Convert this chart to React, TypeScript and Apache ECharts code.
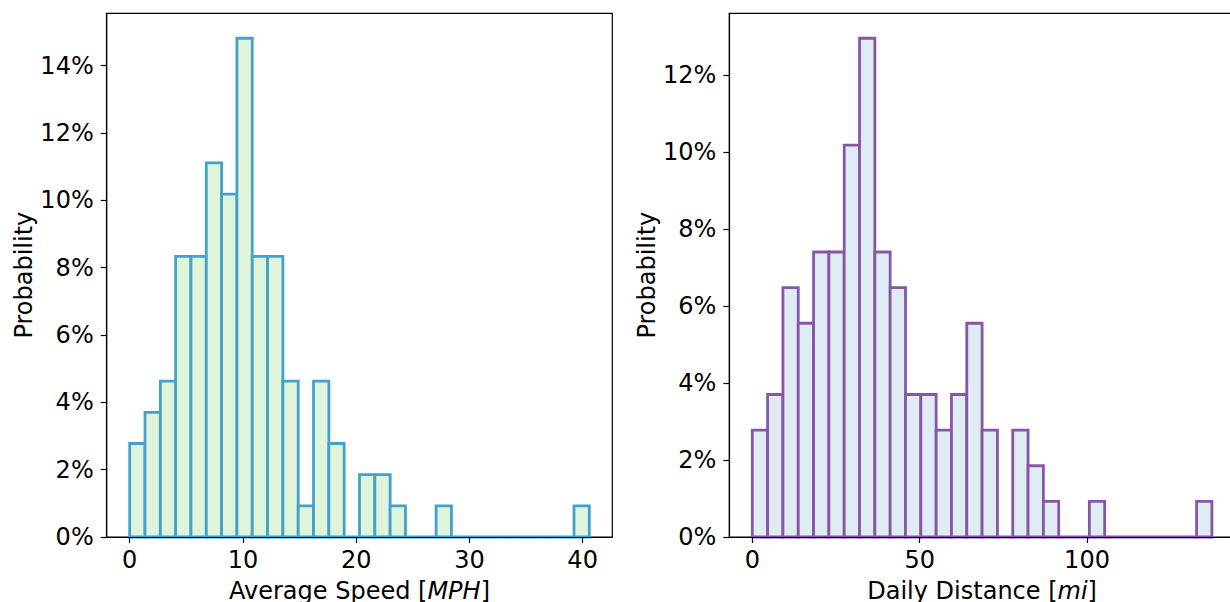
import React, { useEffect, useRef } from 'react';
import * as echarts from 'echarts';

// Histogram counts (30 bins each), sample size 108
const speedCounts = [3, 4, 5, 9, 9, 12, 11, 16, 9, 9, 5, 1, 5, 3, 0, 2, 2, 1, 0, 0, 1, 0, 0, 0, 0, 0, 0, 0, 0, 1];
const distanceCounts = [3, 4, 7, 6, 8, 8, 11, 14, 8, 7, 4, 4, 3, 4, 6, 3, 0, 3, 2, 1, 0, 0, 1, 0, 0, 0, 0, 0, 0, 1];
const sampleSize = 108;

const speedBinStart = 0;
const speedBinWidth = 1.353;
const distanceBinStart = 0;
const distanceBinWidth = 4.577;

const speedTicks = [0, 10, 20, 30, 40];
const distanceTicks = [0, 50, 100];
const speedPctTicks = [0, 2, 4, 6, 8, 10, 12, 14];
const distancePctTicks = [0, 2, 4, 6, 8, 10, 12];

const FONT = 'DejaVu Sans';

function toBins(counts: number[], start: number, width: number) {
  return counts.map((c, i) => [start + i * width, start + (i + 1) * width, (c / sampleSize) * 100]);
}

function histSeries(idx: number, data: number[][], fill: string, stroke: string) {
  return {
    type: 'custom',
    xAxisIndex: idx,
    yAxisIndex: idx,
    dimensions: ['x0', 'x1', 'p'],
    encode: { x: [0, 1], y: 2 },
    data,
    renderItem: (params: any, api: any) => {
      const x0 = api.value(0);
      const x1 = api.value(1);
      const y = api.value(2);
      const p0 = api.coord([x0, 0]);
      const p1 = api.coord([x1, y]);
      return {
        type: 'rect',
        shape: { x: p0[0], y: p1[1], width: p1[0] - p0[0], height: p0[1] - p1[1] },
        style: { fill, stroke, lineWidth: 2.8 },
      };
    },
  };
}

function xAxisCfg(idx: number, min: number, max: number, ticks: number[], name: string) {
  return {
    type: 'value',
    gridIndex: idx,
    min,
    max,
    z: 10,
    splitLine: { show: false },
    axisLine: { onZero: false, lineStyle: { color: '#000', width: 1.2 } },
    axisTick: { customValues: ticks, length: 6, lineStyle: { color: '#000', width: 1.2 } },
    axisLabel: { customValues: ticks, margin: 11, fontSize: 24, color: '#000', fontFamily: FONT },
    name,
    nameLocation: 'middle',
    nameGap: 42,
    nameTextStyle: {
      fontSize: 24,
      color: '#000',
      fontFamily: FONT,
      rich: { i: { fontSize: 24, color: '#000', fontFamily: FONT, fontStyle: 'italic' } },
    },
  };
}

function yAxisCfg(idx: number, max: number, ticks: number[]) {
  return {
    type: 'value',
    gridIndex: idx,
    min: 0,
    max,
    z: 10,
    splitLine: { show: false },
    axisLine: { onZero: false, lineStyle: { color: '#000', width: 1.2 } },
    axisTick: { customValues: ticks, length: 6, lineStyle: { color: '#000', width: 1.2 } },
    axisLabel: {
      customValues: ticks,
      formatter: '{value}%',
      margin: 13,
      fontSize: 24,
      color: '#000',
      fontFamily: FONT,
    },
    name: 'Probability',
    nameLocation: 'middle',
    nameGap: 68,
    nameTextStyle: { fontSize: 24, color: '#000', fontFamily: FONT },
  };
}

export default function App() {
  const ref = useRef<HTMLDivElement>(null);
  useEffect(() => {
    if (!ref.current) return;
    const chart = echarts.init(ref.current, undefined, { renderer: 'svg' });
    const speedBins = toBins(speedCounts, speedBinStart, speedBinWidth);
    const distBins = toBins(distanceCounts, distanceBinStart, distanceBinWidth);
    const speedMaxX = speedBinStart + speedCounts.length * speedBinWidth;
    const distMaxX = distanceBinStart + distanceCounts.length * distanceBinWidth;
    const speedPad = (speedMaxX - speedBinStart) * 0.05;
    const distPad = (distMaxX - distanceBinStart) * 0.05;
    const speedMaxY = (Math.max(...speedCounts) / sampleSize) * 100 * 1.05;
    const distMaxY = (Math.max(...distanceCounts) / sampleSize) * 100 * 1.05;

    const gridBase = {
      top: 13.3,
      width: 505.6,
      height: 523.7,
      show: true,
      borderColor: '#000',
      borderWidth: 1.2,
      backgroundColor: 'transparent',
      containLabel: false,
      outerBoundsMode: 'none',
    };

    chart.setOption({
      animation: false,
      backgroundColor: '#fff',
      grid: [
        { ...gridBase, left: 106.7 },
        { ...gridBase, left: 729.3 },
      ],
      xAxis: [
        xAxisCfg(0, speedBinStart - speedPad, speedMaxX + speedPad, speedTicks, 'Average Speed [{i|MPH}]'),
        xAxisCfg(1, distanceBinStart - distPad, distMaxX + distPad, distanceTicks, 'Daily Distance [{i|mi}]'),
      ],
      yAxis: [yAxisCfg(0, speedMaxY, speedPctTicks), yAxisCfg(1, distMaxY, distancePctTicks)],
      series: [
        histSeries(0, speedBins, '#e0f3db', '#43a2ca'),
        histSeries(1, distBins, '#e0ecf4', '#8856a7'),
      ],
    });
    return () => chart.dispose();
  }, []);
  return <div ref={ref} style={{ position: 'absolute', left: 0, top: 0, width: 1230, height: 602 }} />;
}
